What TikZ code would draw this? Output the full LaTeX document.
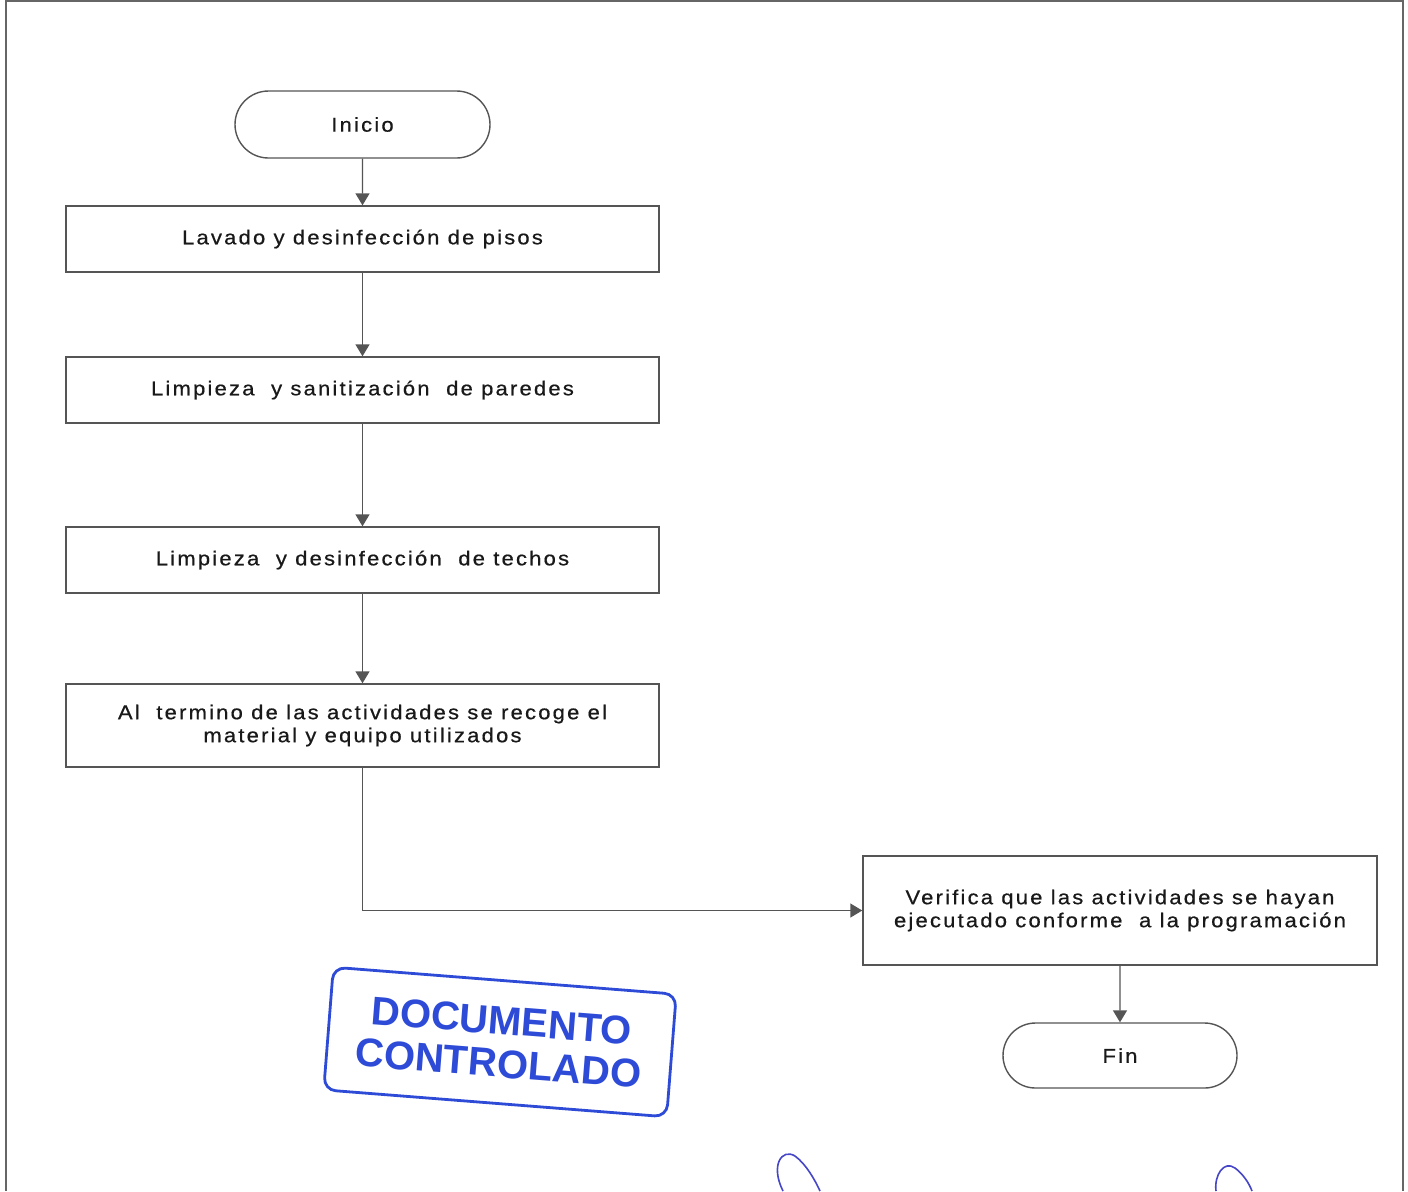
\documentclass[tikz,border=0pt]{standalone}
\usepackage{fontspec}
\setmainfont{Liberation Sans}
\newfontfamily\boxfont[LetterSpace=11,FakeStretch=1.1,FakeBold=0.6]{Liberation Sans}
\usetikzlibrary{arrows.meta,shapes.misc}
\definecolor{linegray}{RGB}{85,85,85}
\definecolor{txt}{RGB}{25,25,25}
\definecolor{stampblue}{RGB}{45,75,215}
\definecolor{inkblue}{RGB}{70,70,200}
\tikzset{
  procbox/.style={draw=linegray, line width=0.7pt, rectangle, minimum width=296.5pt, minimum height=33pt, align=center, font=\boxfont\fontsize{10}{11.5}\selectfont, text=txt, inner sep=0pt},
  termbox/.style={draw=linegray, line width=0.7pt, rounded rectangle, minimum width=127.5pt, minimum height=33.5pt, align=center, font=\boxfont\fontsize{10}{11.5}\selectfont, text=txt, inner sep=0pt},
  flow/.style={draw=linegray, line width=0.7pt, -{Triangle[width=7pt,length=6pt]}},
  frameline/.style={draw=gray!80!black, line width=1.2pt},
  stamp/.style={draw=stampblue, line width=1.4pt, rounded corners=6pt, text=stampblue, font=\bfseries\fontsize{20}{21.5}\selectfont, align=center, minimum width=172pt, minimum height=61.5pt, inner sep=0pt},
  sig/.style={draw=inkblue, line width=0.8pt}
}
\begin{document}
\begin{tikzpicture}[x=0.5pt,y=-0.5pt]
\useasboundingbox (0,0) rectangle (1408,1191);
\fill[white] (0,0) rectangle (1408,1191);
\draw[frameline] (6,1191) -- (6,1) -- (1403,1) -- (1403,1191);

\node[termbox] (inicio) at (362.5,124.5) {Inicio};
\node[procbox] (b1) at (362.5,239) {Lavado y desinfección de pisos};
\node[procbox] (b2) at (362.5,390) {Limpieza\ \ y sanitización\ \ de paredes};
\node[procbox] (b3) at (362.5,560) {Limpieza\ \ y desinfección\ \ de techos};
\node[procbox, minimum height=41.5pt] (b4) at (362.5,725.5) {Al\ \ termino de las actividades se recoge el\\material y equipo utilizados};
\node[procbox, minimum width=257pt, minimum height=54.5pt] (b5) at (1120,910.5) {Verifica que las actividades se hayan\\ejecutado conforme\ \ a la programación};
\node[termbox, minimum width=117pt, minimum height=32.5pt] (fin) at (1120,1055.5) {Fin};

\draw[flow] (inicio) -- (b1);
\draw[flow] (b1) -- (b2);
\draw[flow] (b2) -- (b3);
\draw[flow] (b3) -- (b4);
\draw[flow] (b4.south) |- (b5.west);
\draw[flow] (b5) -- (fin);

\node[stamp, rotate=-4.5] (st) at (500,1042) {DOCUMENTO\\CONTROLADO};

\draw[sig] (783,1191) .. controls (770,1165) and (782,1148) .. (795,1156) .. controls (806,1164) and (815,1180) .. (820,1191);
\draw[sig] (1216,1191) .. controls (1214,1175) and (1224,1160) .. (1235,1168) .. controls (1243,1174) and (1249,1183) .. (1252,1191);
\end{tikzpicture}
\end{document}
